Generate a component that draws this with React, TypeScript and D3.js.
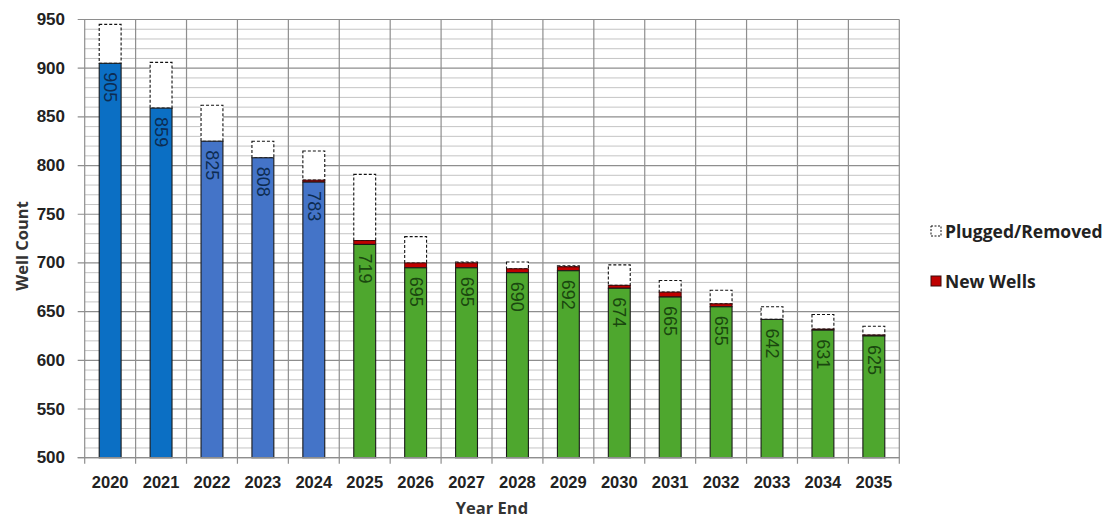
import React from "react";
import * as d3 from "d3";

// Year-end well counts with the wells added and plugged/removed during each year
const years = ["2020", "2021", "2022", "2023", "2024", "2025", "2026", "2027", "2028", "2029", "2030", "2031", "2032", "2033", "2034", "2035"];
const wellCount = [905, 859, 825, 808, 783, 719, 695, 695, 690, 692, 674, 665, 655, 642, 631, 625];
const newWells = [0, 0, 0, 0, 2, 4, 5, 5, 4, 4, 3, 5, 3, 0, 1, 1];
const plugged = [40, 47, 37, 17, 30, 68, 27, 1, 7, 1, 21, 12, 14, 13, 15, 9];
const yTicks = [500, 550, 600, 650, 700, 750, 800, 850, 900, 950];

const W = 1110;
const H = 519;
const left = 84.7;
const right = 899.3;
const top = 19.5;
const bottom = 457.7;

const x = d3.scaleBand<string>().domain(years).range([left, right]).padding(0);
const y = d3.scaleLinear().domain([500, 950]).range([bottom, top]);

const barW = x.bandwidth() * 0.43;

const baseColor = (i: number) => (i < 2 ? "#0b6fc4" : i < 5 ? "#4474c8" : "#4ea72e");
const labelColor = (i: number) => (i < 5 ? "#0d2c52" : "#1a470f");

const tickFont = "'Liberation Sans', Arial, sans-serif";
const titleFont = "'Open Sans', Lato, sans-serif";

export default function App() {
  const minor = d3.range(500, 951, 10).filter((v) => v % 50 !== 0);
  const boundaries = d3.range(0, years.length + 1).map((i) => left + i * x.step());

  return (
    <svg width={W} height={H} style={{ position: "absolute", left: 0, top: 0, background: "#fff" }}>
      {/* minor gridlines */}
      {minor.map((v) => (
        <line key={"m" + v} x1={left} x2={right} y1={y(v)} y2={y(v)} stroke="#c4c4c4" strokeWidth={1} />
      ))}
      {/* major gridlines with outward ticks */}
      {yTicks.map((v) => (
        <line key={"M" + v} x1={left - 7} x2={right} y1={y(v)} y2={y(v)} stroke="#8e8e8e" strokeWidth={1.2} />
      ))}
      {/* vertical category gridlines, extending below the axis as ticks */}
      {boundaries.map((bx, i) => (
        <line key={"v" + i} x1={bx} x2={bx} y1={top} y2={bottom + 6} stroke="#8e8e8e" strokeWidth={1.2} />
      ))}

      {/* stacked bars */}
      {years.map((yr, i) => {
        const cx = (x(yr) as number) + x.bandwidth() / 2;
        const bx = cx - barW / 2;
        const base = wellCount[i];
        const added = base + newWells[i];
        const topV = added + plugged[i];
        return (
          <g key={yr}>
            <rect x={bx} y={y(topV)} width={barW} height={y(added) - y(topV)} fill="#fff" stroke="#111" strokeWidth={1.1} strokeDasharray="3,2" />
            {newWells[i] > 0 && (
              <rect x={bx} y={y(added)} width={barW} height={y(base) - y(added)} fill="#c00000" stroke="#3a0a0a" strokeWidth={1} />
            )}
            <rect x={bx} y={y(base)} width={barW} height={y(500) - y(base)} fill={baseColor(i)} stroke="#1a1a1a" strokeWidth={1.1} />
            <text
              transform={`translate(${cx},${y(base) + 9}) rotate(90)`}
              textAnchor="start"
              dominantBaseline="central"
              fontFamily={tickFont}
              fontSize={18}
              fill={labelColor(i)}
            >
              {base}
            </text>
          </g>
        );
      })}

      {/* x axis line */}
      <line x1={left - 7} x2={right} y1={bottom} y2={bottom} stroke="#8e8e8e" strokeWidth={1.2} />

      {/* y tick labels */}
      {yTicks.map((v) => (
        <text key={"t" + v} x={65} y={y(v)} textAnchor="end" dominantBaseline="central" fontFamily={tickFont} fontWeight="bold" fontSize={17} fill="#222">
          {v}
        </text>
      ))}
      {/* x tick labels */}
      {years.map((yr) => (
        <text key={"x" + yr} x={(x(yr) as number) + x.bandwidth() / 2} y={482} textAnchor="middle" dominantBaseline="central" fontFamily={tickFont} fontWeight="bold" fontSize={16.5} fill="#222">
          {yr}
        </text>
      ))}

      {/* axis titles */}
      <text x={(left + right) / 2} y={507} textAnchor="middle" dominantBaseline="central" fontFamily={titleFont} fontWeight="bold" fontSize={16.5} fill="#333">
        Year End
      </text>
      <text transform={`translate(21,246) rotate(-90)`} textAnchor="middle" dominantBaseline="central" fontFamily={titleFont} fontWeight="bold" fontSize={16.5} fill="#333">
        Well Count
      </text>

      {/* legend */}
      <rect x={931} y={226} width={10} height={10} fill="#fff" stroke="#111" strokeWidth={1} strokeDasharray="2,1.5" />
      <text x={945} y={231} dominantBaseline="central" fontFamily={titleFont} fontWeight="bold" fontSize={17.5} fill="#222">
        Plugged/Removed
      </text>
      <rect x={931} y={276} width={10} height={10} fill="#c00000" stroke="#3a0a0a" strokeWidth={1} />
      <text x={945} y={281} dominantBaseline="central" fontFamily={titleFont} fontWeight="bold" fontSize={17.5} fill="#222">
        New Wells
      </text>
    </svg>
  );
}
